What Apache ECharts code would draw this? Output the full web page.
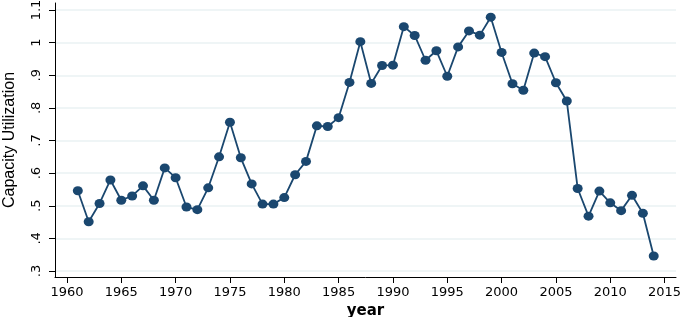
<!DOCTYPE html>
<html>
<head>
<meta charset="utf-8">
<script src="https://cdn.jsdelivr.net/npm/echarts@6/dist/echarts.min.js"></script>
<style>
  html, body { margin: 0; padding: 0; background: #fff; }
  #chart { width: 685px; height: 317px; }
</style>
</head>
<body>
<div id="chart"></div>
<script>
// capacity utilization by year
var years = [1961, 1962, 1963, 1964, 1965, 1966, 1967, 1968, 1969, 1970,
             1971, 1972, 1973, 1974, 1975, 1976, 1977, 1978, 1979, 1980,
             1981, 1982, 1983, 1984, 1985, 1986, 1987, 1988, 1989, 1990,
             1991, 1992, 1993, 1994, 1995, 1996, 1997, 1998, 1999, 2000,
             2001, 2002, 2003, 2004, 2005, 2006, 2007, 2008, 2009, 2010,
             2011, 2012, 2013, 2014];
var capUtil = [0.546, 0.451, 0.507, 0.579, 0.517, 0.530, 0.561, 0.517, 0.616, 0.586,
               0.496, 0.488, 0.555, 0.650, 0.756, 0.647, 0.567, 0.505, 0.505, 0.525,
               0.595, 0.636, 0.745, 0.743, 0.770, 0.878, 1.003, 0.875, 0.930, 0.931,
               1.049, 1.022, 0.946, 0.975, 0.897, 0.987, 1.036, 1.023, 1.078, 0.970,
               0.874, 0.854, 0.968, 0.957, 0.877, 0.821, 0.553, 0.468, 0.545, 0.509,
               0.485, 0.532, 0.477, 0.346];
var xTicks = [1960, 1965, 1970, 1975, 1980, 1985, 1990, 1995, 2000, 2005, 2010, 2015];
var yTicks = [0.3, 0.4, 0.5, 0.6, 0.7, 0.8, 0.9, 1.0, 1.1];

var chart = echarts.init(document.getElementById('chart'));

var points = [];
for (var i = 0; i < years.length; i++) {
    points.push([years[i], capUtil[i]]);
}

var option = {
    animation: false,
    backgroundColor: '#fff',
    textStyle: { fontFamily: 'Liberation Sans, Arial, sans-serif' },
    grid: { left: 55, right: 9, top: 3, bottom: 40, containLabel: false, outerBoundsMode: 'none' },
    xAxis: {
        type: 'value',
        min: 1958.9,
        max: 2016.05,
        name: 'year',
        nameLocation: 'middle',
        nameGap: 26,
        nameTextStyle: { fontSize: 15, fontWeight: 'bold', color: '#000', fontFamily: 'DejaVu Sans' },
        axisLine: { show: true, lineStyle: { color: '#000', width: 1 } },
        axisTick: { show: true, length: 6, customValues: xTicks, lineStyle: { color: '#000' } },
        axisLabel: {
            customValues: xTicks,
            margin: 9,
            fontSize: 13,
            color: '#000',
            fontFamily: 'DejaVu Sans',
            formatter: function (v) { return String(v); }
        },
        splitLine: { show: false }
    },
    yAxis: {
        type: 'value',
        min: 0.2816,
        max: 1.1215,
        name: 'Capacity Utilization',
        nameLocation: 'middle',
        nameGap: 37,
        nameTextStyle: { fontSize: 16, color: '#000' },
        axisLine: { show: true, lineStyle: { color: '#000', width: 1 } },
        axisTick: { show: true, length: 6, customValues: yTicks, lineStyle: { color: '#000' } },
        axisLabel: {
            customValues: yTicks,
            rotate: 90,
            margin: 12,
            fontSize: 13,
            color: '#000',
            fontFamily: 'DejaVu Sans',
            formatter: function (v) {
                return String(+v.toFixed(1)).replace(/^0\./, '.');
            }
        },
        splitLine: { show: true, lineStyle: { color: '#eaf2f3', width: 1.5 } }
    },
    series: [{
        type: 'line',
        data: points,
        symbol: 'circle',
        symbolSize: [10, 9],
        lineStyle: { color: '#1a476f', width: 1.8 },
        itemStyle: { color: '#1a476f' }
    }]
};
chart.setOption(option);
</script>
</body>
</html>
